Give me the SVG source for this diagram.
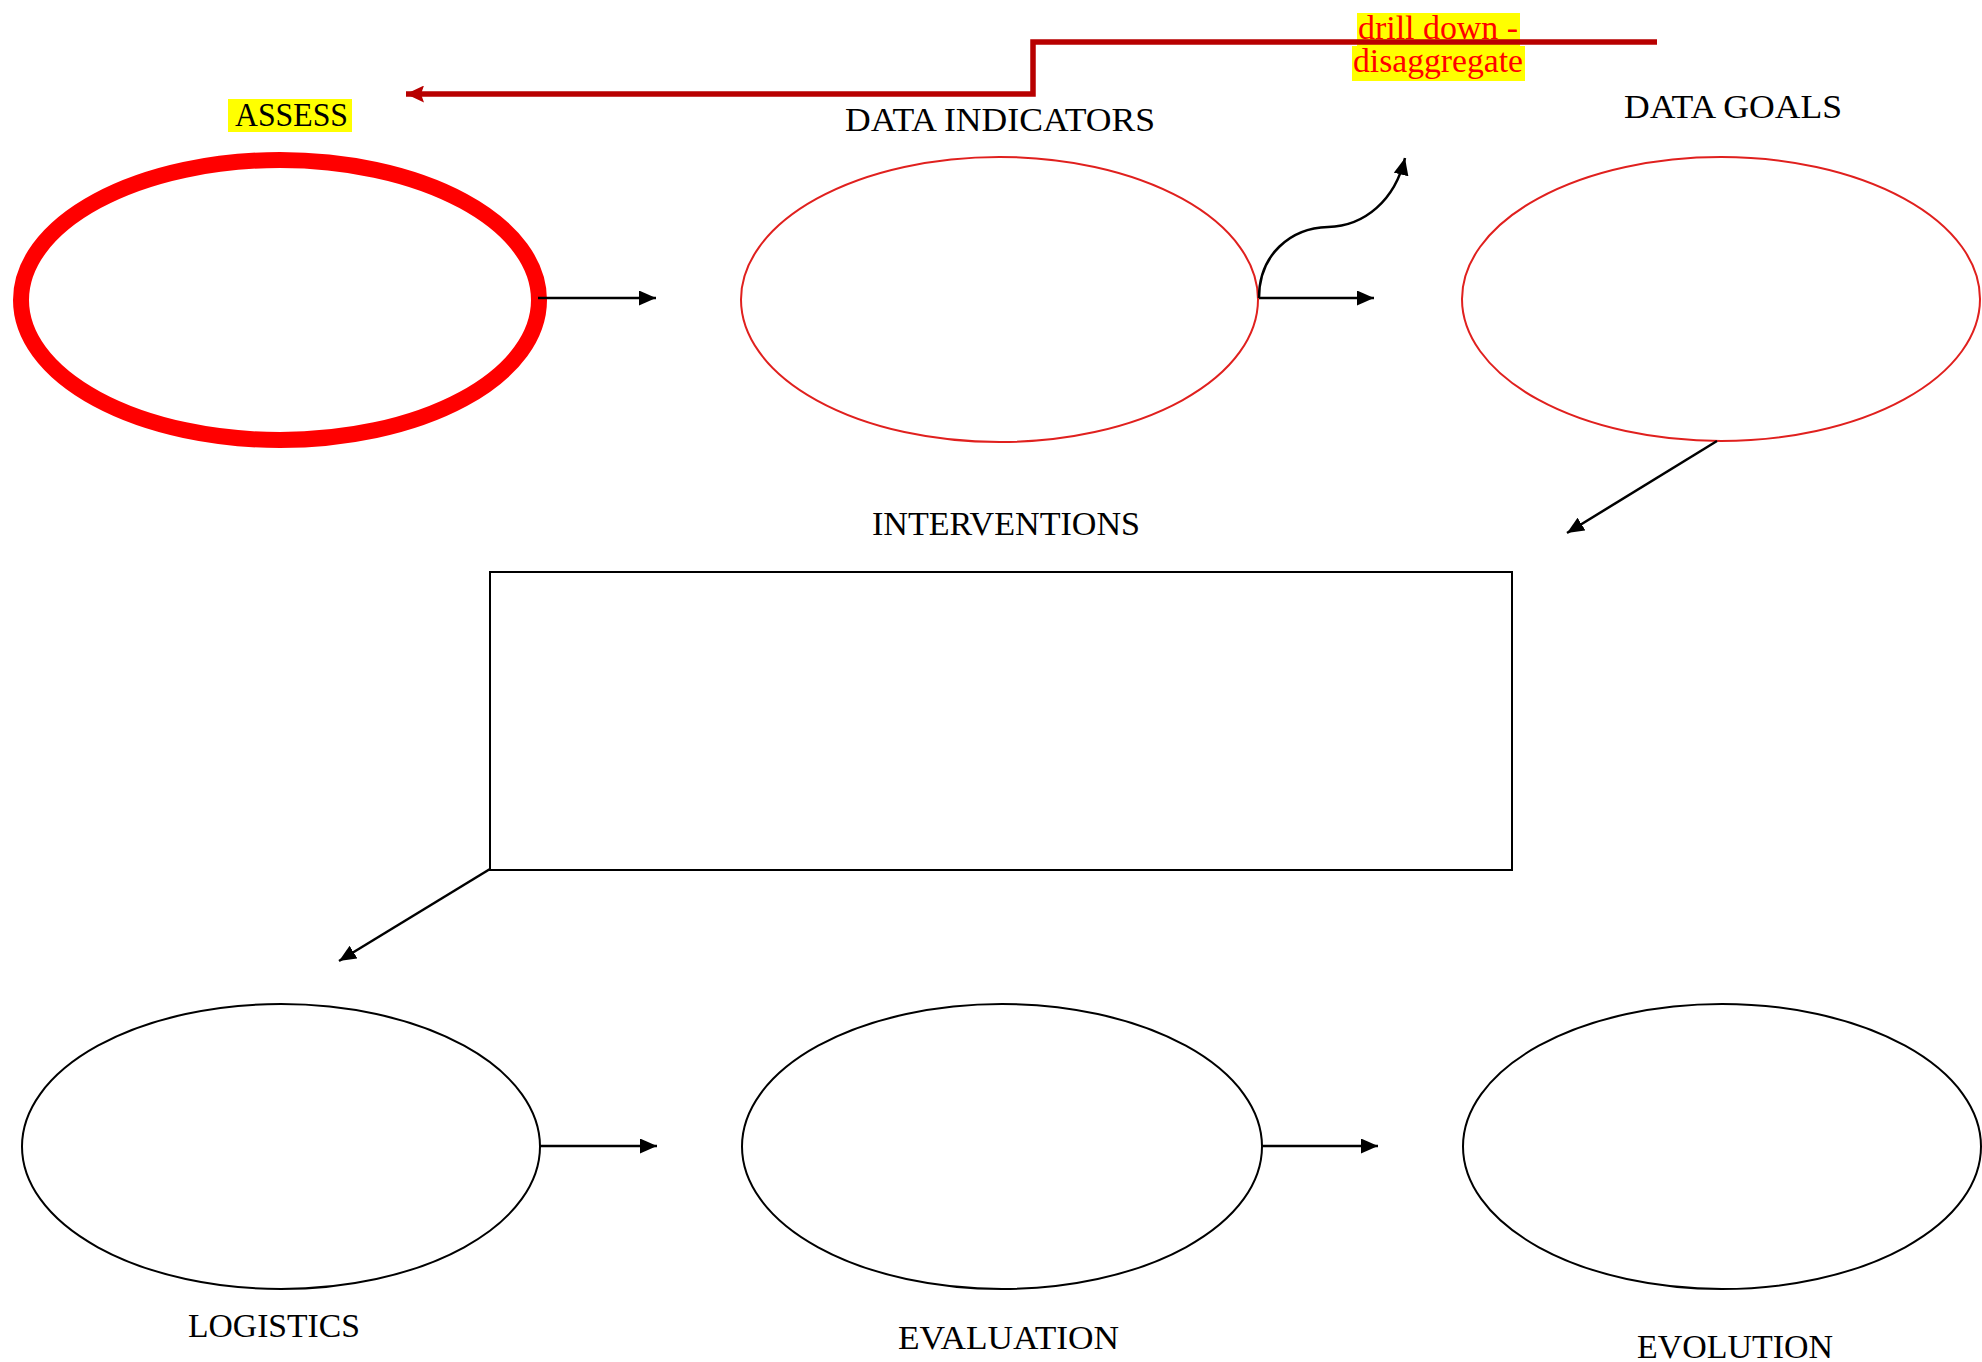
<svg xmlns="http://www.w3.org/2000/svg" width="1982" height="1362" viewBox="0 0 1982 1362">
  <style>
    .lbl { font-family: "Liberation Serif", "Times New Roman", serif; font-size: 33px; fill: #000; }
    .red-lbl { font-family: "Liberation Serif", "Times New Roman", serif; font-size: 34px; fill: #ff0000; }
    .thin-red { fill: none; stroke: #e0201e; stroke-width: 2; }
    .thin-blk { fill: none; stroke: #000; stroke-width: 2; }
    .conn { fill: none; stroke: #000; stroke-width: 2.5; }
    .hl { fill: #ffff00; }
  </style>
  <defs>
    <marker id="arr" markerUnits="userSpaceOnUse" markerWidth="18" markerHeight="15" refX="17" refY="7.5" orient="auto">
      <path d="M0,0 L17,7.5 L0,15 z" fill="#000"/>
    </marker>
    <marker id="arr-red" markerUnits="userSpaceOnUse" markerWidth="19" markerHeight="17" refX="18" refY="8.5" orient="auto">
      <path d="M0,0 L18,8.5 L0,17 L3,8.5 z" fill="#b80000"/>
    </marker>
  </defs>
  <rect width="1982" height="1362" fill="#fff"/>

  <g id="assess">
    <ellipse cx="280" cy="300" rx="259" ry="140" fill="none" stroke="#ff0000" stroke-width="16"/>
    <rect class="hl" x="228" y="99" width="124" height="33"/>
    <text class="lbl" x="235" y="126" textLength="113" lengthAdjust="spacingAndGlyphs">ASSESS</text>
  </g>

  <g id="data-indicators">
    <ellipse class="thin-red" cx="999.5" cy="299.5" rx="258.5" ry="142.5"/>
    <text class="lbl" x="845" y="131" textLength="310" lengthAdjust="spacingAndGlyphs">DATA INDICATORS</text>
  </g>

  <g id="data-goals">
    <ellipse class="thin-red" cx="1721" cy="299" rx="259" ry="142"/>
    <text class="lbl" x="1624" y="118" textLength="218" lengthAdjust="spacingAndGlyphs">DATA GOALS</text>
  </g>

  <g id="interventions">
    <rect class="thin-blk" x="490" y="572" width="1022" height="298"/>
    <text class="lbl" x="872" y="535" textLength="268" lengthAdjust="spacingAndGlyphs">INTERVENTIONS</text>
  </g>

  <g id="logistics">
    <ellipse class="thin-blk" cx="281" cy="1146.5" rx="259" ry="142.5"/>
    <text class="lbl" x="188" y="1337" textLength="172" lengthAdjust="spacingAndGlyphs">LOGISTICS</text>
  </g>

  <g id="evaluation">
    <ellipse class="thin-blk" cx="1002" cy="1146.5" rx="260" ry="142.5"/>
    <text class="lbl" x="898" y="1349" textLength="221" lengthAdjust="spacingAndGlyphs">EVALUATION</text>
  </g>

  <g id="evolution">
    <ellipse class="thin-blk" cx="1722" cy="1146.5" rx="259" ry="142.5"/>
    <text class="lbl" x="1637" y="1358" textLength="196" lengthAdjust="spacingAndGlyphs">EVOLUTION</text>
  </g>

  <g id="connectors">
    <g id="drill-down-label">
      <rect class="hl" x="1357" y="13" width="163" height="34"/>
      <rect class="hl" x="1352" y="46" width="173" height="35"/>
      <text class="red-lbl" x="1358" y="39" textLength="160" lengthAdjust="spacingAndGlyphs">drill down -</text>
      <text class="red-lbl" x="1353" y="72" textLength="170" lengthAdjust="spacingAndGlyphs">disaggregate</text>
    </g>
    <path d="M1657,42 H1033 V94 H406" fill="none" stroke="#b80000" stroke-width="5.5" marker-end="url(#arr-red)"/>
    <path class="conn" d="M538,298 H656" marker-end="url(#arr)"/>
    <path class="conn" d="M1259,298 H1374" marker-end="url(#arr)"/>
    <path class="conn" d="M1259,298 C1259,255 1290,228 1328,227 C1365,226 1395,200 1405,158" marker-end="url(#arr)"/>
    <path class="conn" d="M1717,441 L1567,533" marker-end="url(#arr)"/>
    <path class="conn" d="M490,869 L339,961" marker-end="url(#arr)"/>
    <path class="conn" d="M540,1146 H657" marker-end="url(#arr)"/>
    <path class="conn" d="M1262,1146 H1378" marker-end="url(#arr)"/>
  </g>
</svg>
